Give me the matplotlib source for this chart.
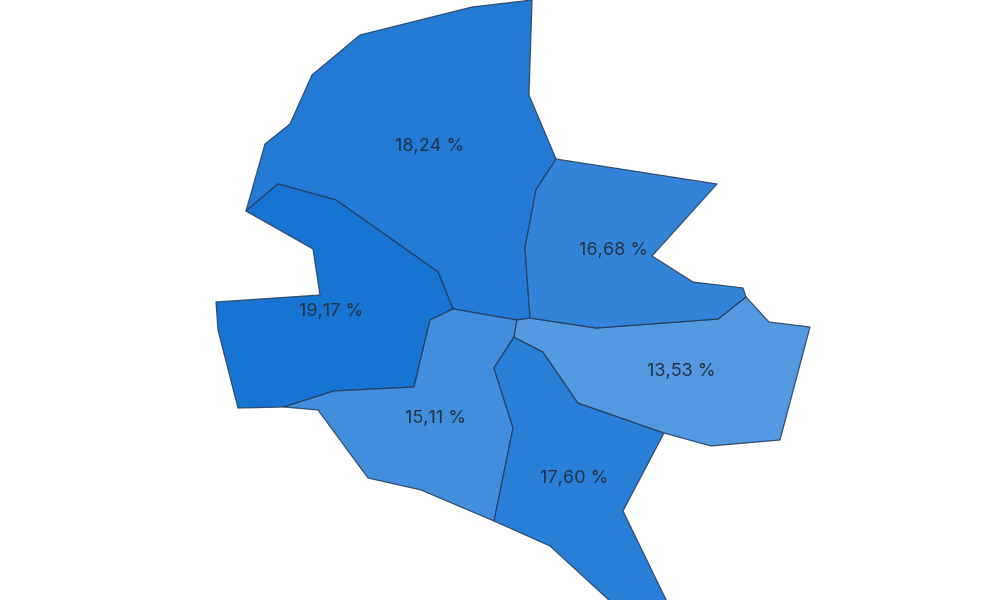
import matplotlib
matplotlib.use('Agg')
import matplotlib.pyplot as plt
from matplotlib.colors import LinearSegmentedColormap, Normalize
from matplotlib.patches import Polygon

# district shares, comma decimals like the original
values = [18.24, 19.17, 15.11, 17.60, 13.53, 16.68]
labels = ['18,24 %', '19,17 %', '15,11 %', '17,60 %', '13,53 %', '16,68 %']
label_pos = [(429.5, 146.5), (331.5, 311.5), (435.5, 418.5), (574.5, 478.5), (681.5, 371.5), (613.5, 250.5)]

# map outlines, projected to picture units
north = [(246, 211), (265, 144), (290, 124), (312, 75), (360, 35), (472, 7), (532, 0), (529, 95),
         (556, 159), (536, 190), (525, 248), (530, 318), (517, 320), (453, 309), (438, 272),
         (336, 200), (278, 184)]
west = [(246, 211), (278, 184), (336, 200), (438, 272), (453, 309), (430, 320), (414, 387),
        (334, 391), (284, 407), (238, 408), (218, 330), (216, 302), (320, 295), (313, 249)]
south_west = [(284, 407), (334, 391), (414, 387), (430, 320), (453, 309), (517, 320), (514, 337),
              (494, 368), (513, 428), (494, 521), (421, 490), (368, 478), (318, 410)]
# runs off the bottom of the frame
south = [(514, 337), (543, 352), (578, 403), (664, 433), (623, 511), (672, 612), (622, 612),
         (550, 546), (494, 521), (513, 428), (494, 368)]
east = [(517, 320), (530, 318), (596, 328), (718, 319), (746, 297), (769, 322), (810, 327),
        (780, 440), (711, 446), (664, 433), (578, 403), (543, 352), (514, 337)]
north_east = [(556, 159), (717, 184), (652, 256), (693, 282), (743, 288), (746, 297), (718, 319),
              (596, 328), (530, 318), (525, 248), (536, 190)]
shapes = [north, west, south_west, south, east, north_east]

cmap = LinearSegmentedColormap.from_list('blues', ['#5498E0', '#1874D3'])
norm = Normalize(min(values), max(values))

fig = plt.figure(figsize=(10, 6), dpi=100)
ax = fig.add_axes([0, 0, 1, 1])
ax.set_xlim(0, 1000)
ax.set_ylim(600, 0)
ax.axis('off')

for shape, value in zip(shapes, values):
    ax.add_patch(Polygon(shape, closed=True, facecolor=cmap(norm(value)),
                         edgecolor=(0.14, 0.24, 0.35, 0.85), linewidth=0.9, joinstyle='round'))

for (x, y), label in zip(label_pos, labels):
    ax.text(x, y, label, ha='center', va='center', family='Inter', fontsize=13, color='#243446')

fig.savefig('out.png', dpi=100)
